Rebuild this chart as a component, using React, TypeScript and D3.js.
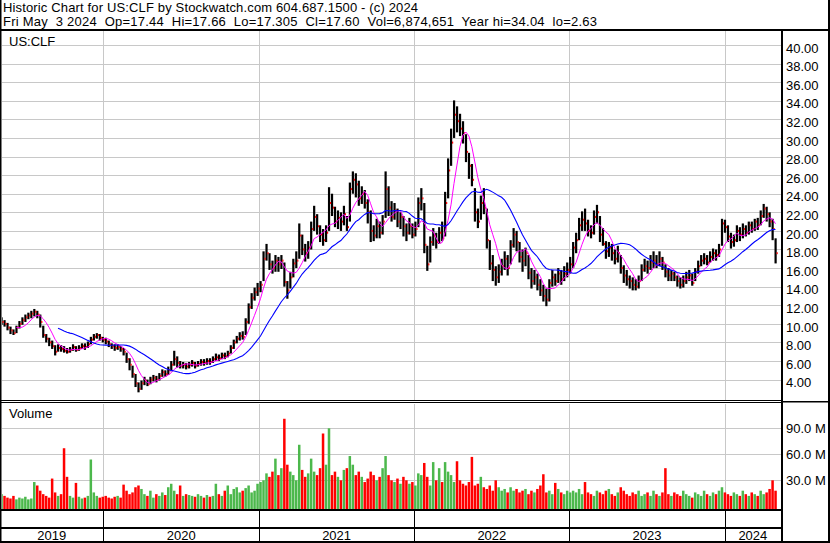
import React from "react";
import * as d3 from "d3";

// weekly bars, week ending Friday, first one 2019-05-10
const firstWeek = new Date(2019, 4, 10);

const highs = [
  10.7, 10.4, 10.1, 9.7, 9.4, 9.8, 10.3, 10.7, 11.0, 11.2,
  11.4, 11.6, 11.4, 11.0, 9.8, 8.9, 8.5, 8.2, 7.7, 7.8,
  7.7, 7.6, 7.4, 7.5, 7.8, 7.6, 7.7, 7.9, 7.9, 8.1,
  8.6, 8.9, 9.0, 8.9, 8.6, 8.5, 8.2, 7.9, 7.8, 7.8,
  7.6, 7.4, 6.9, 6.3, 5.5, 4.6, 3.7, 3.9, 4.3, 4.0,
  4.3, 4.5, 4.4, 4.7, 5.1, 5.0, 5.4, 6.0, 7.1, 6.5,
  6.0, 5.9, 5.8, 5.9, 6.1, 5.9, 6.0, 6.2, 6.2, 6.3,
  6.3, 6.5, 6.8, 6.7, 6.9, 6.9, 7.1, 7.7, 8.3, 8.7,
  9.1, 9.2, 10.6, 12.2, 13.3, 13.9, 14.4, 14.6, 17.8, 18.6,
  17.6, 16.8, 17.4, 17.2, 17.4, 16.6, 14.6, 15.6, 17.0, 17.8,
  20.8, 19.6, 18.6, 18.9, 21.0, 22.7, 21.8, 20.6, 20.2, 20.6,
  24.7, 24.0, 22.6, 22.2, 22.0, 22.7, 21.6, 25.2, 26.4, 26.2,
  25.4, 24.8, 24.4, 23.4, 22.2, 20.6, 21.3, 21.0, 21.7, 26.4,
  24.8, 23.2, 23.0, 22.4, 22.0, 21.6, 20.8, 21.4, 20.8, 21.0,
  23.6, 24.6, 23.0, 18.4, 19.4, 20.3, 19.8, 20.4, 21.0, 24.2,
  27.8, 31.0, 34.04, 33.4, 32.6, 31.8, 30.4, 28.4, 27.2, 24.6,
  22.4, 23.8, 24.6, 22.4, 19.0, 17.4, 16.2, 16.4, 17.0, 17.8,
  17.4, 19.0, 20.3, 20.0, 18.8, 18.0, 18.2, 17.4, 16.0, 15.8,
  15.4, 14.8, 14.2, 13.8, 14.8, 15.8, 15.4, 16.0, 15.8, 16.2,
  16.6, 17.2, 18.8, 19.8, 21.4, 22.1, 22.4, 21.2, 20.6, 22.2,
  22.8, 21.6, 20.3, 18.9, 18.8, 18.6, 18.0, 18.4, 17.4, 16.3,
  15.8, 15.2, 15.0, 14.8, 15.2, 16.4, 17.0, 16.8, 17.4, 17.8,
  17.4, 17.8, 17.2, 16.4, 16.0, 15.8, 15.6, 15.2, 15.0, 15.2,
  15.6, 15.8, 15.4, 16.0, 16.8, 17.4, 17.6, 17.4, 17.8, 18.1,
  18.0, 18.6, 21.3, 21.2, 20.6, 19.8, 19.6, 20.6, 20.4, 20.8,
  20.6, 21.0, 21.0, 21.3, 21.4, 22.2, 22.9, 22.6, 22.0, 21.3,
  19.2,
];

const lows = [
  9.9, 9.7, 9.3, 8.9, 8.8, 9.0, 9.5, 9.9, 10.2, 10.5,
  10.6, 10.8, 10.6, 9.6, 8.5, 8.0, 7.6, 7.3, 6.6, 7.0,
  7.0, 6.9, 6.8, 6.9, 7.1, 7.0, 7.1, 7.3, 7.2, 7.4,
  7.8, 8.2, 8.4, 8.2, 8.0, 7.8, 7.5, 7.3, 7.1, 7.2,
  7.0, 6.6, 5.8, 5.0, 4.2, 3.2, 2.63, 2.9, 3.4, 3.3,
  3.5, 3.8, 3.7, 3.9, 4.3, 4.3, 4.5, 4.9, 5.5, 5.3,
  5.2, 5.2, 5.1, 5.2, 5.4, 5.2, 5.4, 5.5, 5.5, 5.6,
  5.6, 5.8, 6.0, 6.0, 6.2, 6.2, 6.4, 6.8, 7.3, 7.9,
  8.2, 8.3, 8.8, 10.0, 11.6, 12.5, 13.0, 13.4, 14.6, 16.8,
  15.8, 15.4, 15.6, 15.6, 15.9, 14.0, 12.7, 13.8, 15.0, 16.0,
  17.0, 17.4, 16.7, 17.0, 18.0, 20.0, 19.6, 18.8, 18.4, 18.8,
  20.0, 21.6, 20.4, 20.2, 20.0, 20.6, 20.0, 21.0, 24.0, 23.6,
  22.7, 22.9, 22.4, 20.8, 18.8, 18.9, 19.2, 19.2, 19.6, 21.4,
  21.6, 21.0, 21.2, 20.4, 20.2, 19.4, 18.9, 19.6, 19.2, 19.4,
  20.4, 22.2, 17.6, 15.7, 16.6, 18.4, 18.1, 18.6, 18.9, 19.4,
  23.5, 27.0, 30.0, 30.6, 30.2, 29.4, 27.4, 25.6, 24.8, 21.0,
  20.3, 21.2, 21.8, 18.1, 15.8, 14.6, 14.1, 14.4, 15.2, 15.8,
  15.2, 16.4, 18.2, 17.8, 16.6, 15.6, 16.2, 14.8, 13.8, 14.2,
  13.6, 13.0, 12.4, 11.9, 12.4, 14.0, 14.1, 14.4, 14.2, 14.6,
  15.0, 15.4, 16.0, 17.6, 19.0, 20.0, 20.0, 19.4, 19.2, 19.6,
  20.8, 18.8, 18.4, 17.0, 17.2, 16.8, 16.4, 16.6, 15.4, 14.4,
  14.1, 13.8, 13.6, 13.6, 13.8, 14.6, 15.6, 15.4, 15.8, 16.0,
  16.0, 16.2, 15.8, 15.0, 14.6, 14.6, 14.6, 14.0, 13.8, 13.9,
  14.3, 14.6, 14.1, 14.6, 15.4, 16.2, 16.4, 16.3, 16.6, 16.8,
  16.8, 17.2, 18.4, 19.8, 18.8, 18.1, 18.3, 18.8, 18.9, 19.2,
  19.4, 19.6, 19.8, 20.0, 20.1, 20.6, 21.4, 21.0, 20.4, 19.0,
  16.5,
];

const closes = [
  10.2, 10.0, 9.6, 9.3, 9.0, 9.6, 10.0, 10.4, 10.7, 10.9,
  11.1, 11.3, 11.0, 10.2, 8.8, 8.4, 8.0, 7.6, 7.0, 7.4,
  7.3, 7.1, 7.0, 7.2, 7.5, 7.2, 7.4, 7.6, 7.5, 7.8,
  8.3, 8.6, 8.8, 8.5, 8.3, 8.1, 7.8, 7.6, 7.4, 7.5,
  7.3, 7.0, 6.2, 5.6, 4.6, 3.6, 3.0, 3.6, 3.9, 3.5,
  4.0, 4.2, 4.0, 4.4, 4.8, 4.6, 5.0, 5.6, 6.2, 5.8,
  5.5, 5.6, 5.4, 5.6, 5.8, 5.5, 5.7, 5.9, 5.8, 6.0,
  5.9, 6.2, 6.4, 6.3, 6.6, 6.5, 6.8, 7.4, 8.0, 8.4,
  8.7, 8.6, 10.2, 11.8, 12.8, 13.4, 13.8, 14.2, 17.0, 17.6,
  16.4, 16.0, 16.8, 16.4, 16.8, 14.5, 13.6, 15.0, 16.5, 16.8,
  19.5, 18.0, 17.6, 18.2, 20.2, 21.5, 20.5, 19.6, 19.0, 19.8,
  23.0, 22.5, 21.0, 21.4, 21.0, 21.8, 20.4, 24.5, 25.5, 25.0,
  23.5, 24.0, 23.0, 22.0, 20.0, 19.5, 20.5, 19.8, 21.0, 24.5,
  22.5, 21.5, 22.2, 21.0, 21.5, 20.5, 19.8, 20.5, 19.6, 20.2,
  23.0, 23.5, 18.5, 16.4, 18.8, 19.5, 18.8, 19.8, 19.2, 23.0,
  26.5, 29.5, 32.5, 31.8, 31.0, 30.5, 28.5, 27.0, 25.5, 22.0,
  21.0, 23.0, 22.5, 19.0, 16.5, 15.8, 15.0, 15.6, 16.2, 17.0,
  16.0, 18.5, 19.6, 18.8, 17.2, 16.8, 17.6, 15.5, 14.6, 15.0,
  14.2, 13.6, 13.0, 12.6, 14.4, 15.0, 14.6, 15.4, 14.8, 15.4,
  15.8, 16.4, 18.2, 19.0, 20.6, 21.2, 20.8, 20.0, 19.8, 21.5,
  22.0, 19.6, 18.6, 17.8, 18.2, 17.6, 17.0, 17.6, 16.0, 15.2,
  14.8, 14.6, 14.2, 14.0, 14.6, 15.8, 16.2, 16.0, 16.6, 16.8,
  16.4, 17.0, 16.6, 15.6, 15.2, 15.4, 15.0, 14.6, 14.2, 14.6,
  15.0, 15.2, 14.4, 15.6, 16.2, 16.8, 17.0, 16.6, 17.2, 17.6,
  17.4, 18.0, 20.8, 20.4, 19.4, 18.8, 19.0, 20.0, 19.6, 20.2,
  19.8, 20.6, 20.2, 21.0, 20.6, 21.6, 22.4, 21.8, 21.0, 20.2,
  17.6,
];

// millions of shares
const volumes = [
  14, 12, 10, 9, 12, 8, 10, 9, 11, 8,
  9, 28, 24, 18, 14, 12, 10, 32, 16, 12,
  14, 67, 34, 12, 10, 27, 11, 9, 10, 12,
  54, 16, 12, 10, 11, 12, 10, 9, 11, 12,
  10, 25, 18, 14, 16, 22, 24, 20, 14, 12,
  18, 10, 14, 12, 16, 13, 22, 26, 18, 14,
  24, 12, 14, 13, 12, 11, 14, 12, 10, 13,
  11, 12, 26, 14, 12, 18, 24, 14, 20, 22,
  16, 18, 21, 24, 16, 18, 26, 28, 30, 38,
  34, 40, 55, 36, 44, 101, 48, 40, 36, 30,
  71, 42, 34, 38, 55, 40, 36, 44, 84, 48,
  90, 36, 40, 34, 30, 42, 44, 58, 48, 36,
  40, 34, 28, 32, 40, 36, 30, 34, 44, 58,
  36, 30, 28, 32, 26, 34, 30, 26, 28, 24,
  38, 36, 50, 34, 24, 51, 30, 44, 28, 51,
  40, 36, 28, 52, 30, 26, 24, 28, 57, 24,
  26, 34, 22, 20, 24, 18, 30, 22, 18, 20,
  16, 22, 18, 20, 16, 18, 20, 14, 18, 16,
  20, 24, 37, 16, 18, 14, 27, 20, 16, 14,
  18, 16, 18, 16, 20, 14, 28, 16, 14, 12,
  18, 16, 14, 18, 20, 14, 12, 16, 22, 18,
  14, 12, 16, 14, 18, 12, 14, 16, 12, 18,
  14, 12, 16, 44, 14, 12, 16, 14, 12, 18,
  14, 12, 10, 16, 14, 12, 18, 14, 12, 16,
  14, 18, 22, 16, 14, 12, 16, 14, 12, 18,
  14, 12, 16, 14, 12, 18, 14, 16, 20, 30,
  18,
];

const priceTicks = [4, 6, 8, 10, 12, 14, 16, 18, 20, 22, 24, 26, 28, 30, 32, 34, 36, 38, 40];
const volumeTicks = [30, 60, 90];
const years = [2019, 2020, 2021, 2022, 2023, 2024];

const title = "Historic Chart for US:CLF by Stockwatch.com 604.687.1500 - (c) 2024";
const quote = "Fri May  3 2024  Op=17.44  Hi=17.66  Lo=17.305  Cl=17.60  Vol=6,874,651  Year hi=34.04  lo=2.63";

const fastPeriod = 6;
const slowPeriod = 20;

const font = "Arial, 'Liberation Sans', sans-serif";
const grid = "#c8c8c8";

function movingAverage(values: number[], n: number) {
  return values.map((_, i) => (i < n - 1 ? null : (d3.mean(values.slice(i - n + 1, i + 1)) as number)));
}

export default function App() {
  const W = 830;
  const H = 543;
  const plotR = 781;

  const x = d3.scaleTime().domain([new Date(2019, 4, 3), new Date(2024, 4, 3)]).range([0, 777]);
  const y = d3.scaleLinear().domain([4, 40]).range([379.6, 45]);
  const yv = d3.scaleLinear().domain([0, 90]).range([506.3, 428.3]);

  const dates = closes.map((_, i) => d3.timeDay.offset(firstWeek, 7 * i));
  const bx = (i: number) => x(dates[i]) - 1.5;

  const fast = movingAverage(closes, fastPeriod);
  const slow = movingAverage(closes, slowPeriod);
  const line = d3
    .line<number | null>()
    .defined(d => d != null)
    .x((_, i) => bx(i))
    .y(d => y(d as number));

  const bounds = years.slice(1).map(yr => x(new Date(yr, 0, 1)));
  const edges = [0, ...bounds, plotR];

  return (
    <div style={{ position: "absolute", left: 0, top: 0 }}>
      <svg width={W} height={H} style={{ display: "block", background: "#fff" }} fontFamily={font}>
        <defs>
          <clipPath id="price">
            <rect x={2} y={31} width={plotR - 2} height={369} />
          </clipPath>
          <clipPath id="vol">
            <rect x={2} y={404} width={plotR - 2} height={105} />
          </clipPath>
        </defs>

        {/* header */}
        <text x={3} y={11.5} fontSize={13} textLength={415} lengthAdjust="spacing">{title}</text>
        <text x={3} y={26} fontSize={13} xmlSpace="preserve" style={{ whiteSpace: "pre" }} textLength={594} lengthAdjust="spacing">
          {quote}
        </text>

        {/* price grid */}
        {priceTicks.map(t => (
          <line key={"pg" + t} x1={2} x2={plotR} y1={Math.round(y(t)) + 0.5} y2={Math.round(y(t)) + 0.5} stroke={grid} />
        ))}
        {bounds.map((b, i) => (
          <line key={"vg" + i} x1={Math.round(b) + 0.5} x2={Math.round(b) + 0.5} y1={31} y2={400} stroke={grid} />
        ))}
        <text x={9} y={45.5} fontSize={13}>US:CLF</text>

        {/* price bars */}
        <g clipPath="url(#price)">
          {closes.map((c, i) => (
            <rect key={"b" + i} x={bx(i) - 1} y={y(highs[i])} width={2.2} height={Math.max(1, y(lows[i]) - y(highs[i]))} fill="#000" />
          ))}
          {closes.map((c, i) => (
            <rect key={"c" + i} x={bx(i) + 1} y={y(c) - 1} width={1.2} height={2} fill="#ff0000" />
          ))}
          <path d={line(fast) || ""} fill="none" stroke="#ff00ff" strokeWidth={1} />
          <path d={line(slow) || ""} fill="none" stroke="#0000ff" strokeWidth={1.1} />
        </g>

        {/* price axis labels */}
        {priceTicks.map(t => (
          <text key={"pl" + t} x={786} y={y(t) + 7.7} fontSize={13}>{t.toFixed(2)}</text>
        ))}

        {/* volume panel */}
        {volumeTicks.map(t => (
          <line key={"vgl" + t} x1={2} x2={plotR} y1={Math.round(yv(t)) + 0.5} y2={Math.round(yv(t)) + 0.5} stroke={grid} />
        ))}
        {bounds.map((b, i) => (
          <line key={"vvg" + i} x1={Math.round(b) + 0.5} x2={Math.round(b) + 0.5} y1={404} y2={509} stroke={grid} />
        ))}
        <text x={9} y={418} fontSize={13}>Volume</text>
        <g clipPath="url(#vol)">
          {volumes.map((v, i) => (
            <rect
              key={"v" + i}
              x={bx(i) - 1.2}
              y={yv(v)}
              width={2.5}
              height={509 - yv(v)}
              fill={i > 0 && closes[i] < closes[i - 1] ? "#ff0000" : "#4cb84c"}
            />
          ))}
        </g>
        {volumeTicks.map(t => (
          <text key={"vl" + t} x={786} y={yv(t) + 4.7} fontSize={13}>{t.toFixed(1) + " M"}</text>
        ))}

        {/* time axis */}
        {bounds.map((b, i) => (
          <g key={"tb" + i}>
            <line x1={Math.round(b) + 0.5} x2={Math.round(b) + 0.5} y1={511} y2={527} stroke="#000" />
            <line x1={Math.round(b) + 0.5} x2={Math.round(b) + 0.5} y1={529} y2={541} stroke="#000" />
          </g>
        ))}
        {years.map((yr, i) => (
          <text key={"yr" + yr} x={(edges[i] + edges[i + 1]) / 2} y={539.5} fontSize={13} textAnchor="middle">{yr}</text>
        ))}

        {/* frame */}
        <rect x={0} y={29} width={W} height={2} fill="#000" />
        <rect x={0} y={400} width={plotR} height={1} fill="#000" />
        <rect x={0} y={402} width={plotR} height={1} fill="#000" />
        <rect x={plotR} y={401} width={W - plotR} height={1.5} fill="#000" />
        <rect x={0} y={509} width={plotR} height={2} fill="#000" />
        <rect x={0} y={527} width={plotR} height={2} fill="#000" />
        <rect x={0} y={541} width={W} height={2} fill="#000" />
        <rect x={0} y={0} width={1.5} height={H} fill="#000" />
        <rect x={plotR} y={31} width={2} height={H - 31} fill="#000" />
        <rect x={W - 2} y={0} width={2} height={H} fill="#000" />
      </svg>
    </div>
  );
}
